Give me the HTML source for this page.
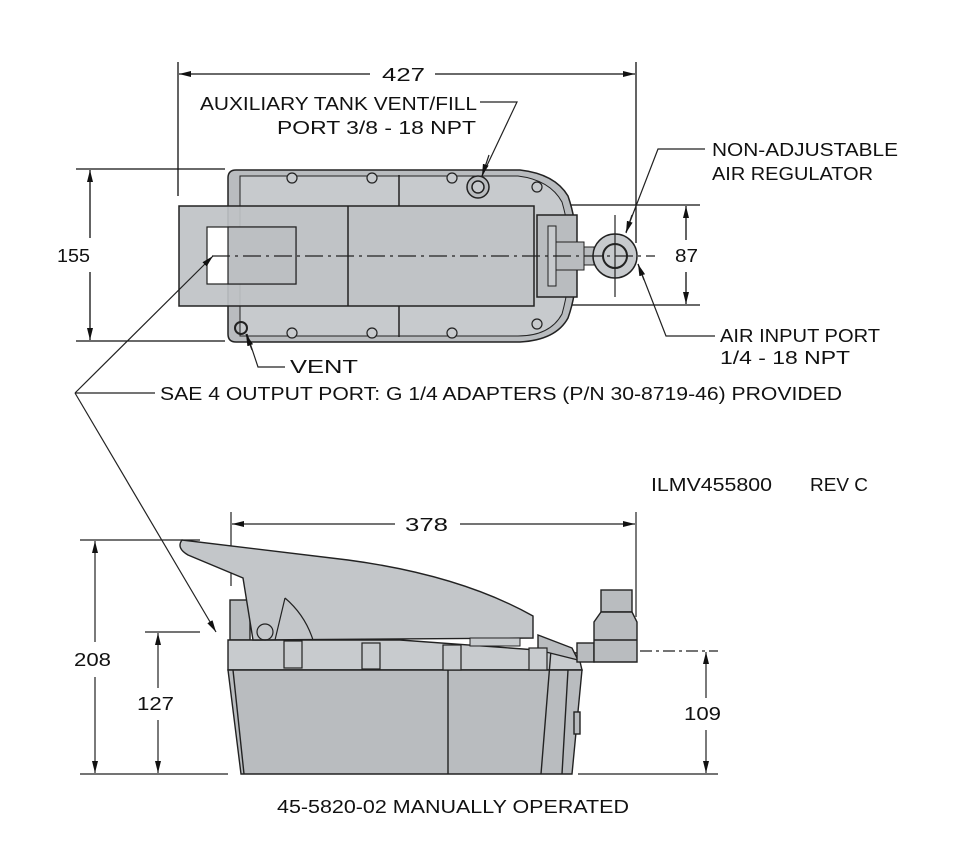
<!DOCTYPE html>
<html><head><style>
html,body{margin:0;padding:0;background:#fff}
svg text{font-family:"Liberation Sans",sans-serif;font-size:18px;fill:#111}
</style></head><body>
<svg width="980" height="844" viewBox="0 0 980 844" xmlns="http://www.w3.org/2000/svg">
<defs>
<marker id="a" viewBox="0 0 12 6" refX="12" refY="3" markerWidth="12" markerHeight="6" orient="auto-start-reverse" markerUnits="userSpaceOnUse"><path d="M0,0L12,3L0,6z" fill="#111"/></marker>
</defs>
<g stroke="#111" stroke-width="1.3" fill="none">
<line x1="178" y1="62" x2="178" y2="196"/>
<line x1="636" y1="62" x2="636" y2="243"/>
<line x1="179" y1="74" x2="370" y2="74" marker-start="url(#a)"/>
<line x1="435" y1="74" x2="635" y2="74" marker-end="url(#a)"/>
<line x1="76" y1="169" x2="225" y2="169"/>
<line x1="76" y1="341" x2="225" y2="341"/>
<line x1="90" y1="170" x2="90" y2="238" marker-start="url(#a)"/>
<line x1="90" y1="272" x2="90" y2="340" marker-end="url(#a)"/>
<line x1="545" y1="205" x2="700" y2="205"/>
<line x1="545" y1="305" x2="700" y2="305"/>
<line x1="686" y1="206" x2="686" y2="240" marker-start="url(#a)"/>
<line x1="686" y1="272" x2="686" y2="304" marker-end="url(#a)"/>
</g>
<g stroke="#222" stroke-width="1.5">
<path d="M236,170 L520,170 Q555,174 568,196 Q578,225 576,256 Q578,290 568,318 Q556,340 520,342 L236,342 Q228,342 228,334 L228,178 Q228,170 236,170Z" fill="#b9bcbf"/>
<path d="M240,176 L518,176 Q550,180 562,202 Q570,230 570,256 Q570,285 562,314 Q550,336 518,336 L240,336Z" fill="#c7cacd" stroke-width="1"/>
<rect x="179" y="206" width="355" height="100" fill="#bfc2c5" fill-opacity="0.92"/>
<rect x="207" y="227" width="89" height="57" fill="#fff" stroke-width="1.2"/>
<rect x="228" y="227" width="68" height="57" fill="#bcbfc2" stroke-width="1.2"/>
<line x1="348" y1="206" x2="348" y2="306"/>
<line x1="399" y1="175" x2="399" y2="206"/>
<line x1="399" y1="306" x2="399" y2="337"/>
<rect x="537" y="215" width="40" height="82" fill="#b9bcbf"/>
<rect x="548" y="226" width="8" height="60" fill="#c7cacd" stroke-width="1"/>
<rect x="556" y="242" width="28" height="28" fill="#b9bcbf" stroke-width="1"/>
<rect x="584" y="247" width="10" height="18" fill="#b9bcbf" stroke-width="1"/>
<circle cx="615" cy="256" r="22" fill="#c7cacd"/>
<circle cx="615" cy="256" r="12" fill="#c7cacd" stroke-width="2"/>
<circle cx="478" cy="187" r="11" fill="#b9bcbf"/>
<circle cx="478" cy="187" r="6" fill="#c7cacd"/>
<circle cx="241" cy="328" r="6" fill="none" stroke-width="2"/>
</g>
<g fill="#c7cacd" stroke="#222" stroke-width="1.2">
<circle cx="292" cy="178" r="5"/><circle cx="372" cy="178" r="5"/><circle cx="452" cy="178" r="5"/><circle cx="537" cy="187" r="5"/>
<circle cx="292" cy="333" r="5"/><circle cx="372" cy="333" r="5"/><circle cx="452" cy="333" r="5"/><circle cx="537" cy="324" r="5"/>
</g>
<g stroke="#222" stroke-width="1.2" fill="none">
<line x1="212" y1="256" x2="655" y2="256" stroke-dasharray="18,5,3,5"/>
<line x1="615" y1="215" x2="615" y2="297"/>
<polyline points="480,102 517,102 482,176" />
<line x1="489" y1="155" x2="482" y2="176" marker-end="url(#a)"/>
<polyline points="705,149 658,149 626,232" />
<line x1="632" y1="215" x2="626" y2="233" marker-end="url(#a)"/>
<polyline points="715,336 666,336 638,264"/>
<line x1="644" y1="280" x2="638" y2="264" marker-end="url(#a)"/>
<polyline points="285,367 258,367 247,334"/>
<line x1="252" y1="350" x2="246" y2="334" marker-end="url(#a)"/>
<line x1="155" y1="393" x2="75" y2="393"/>
<line x1="75" y1="393" x2="213" y2="256" marker-end="url(#a)"/>
<line x1="75" y1="393" x2="216" y2="632" marker-end="url(#a)"/>
<line x1="231" y1="512" x2="231" y2="586"/>
<line x1="636" y1="512" x2="636" y2="617"/>
<line x1="232" y1="524" x2="395" y2="524" marker-start="url(#a)"/>
<line x1="460" y1="524" x2="635" y2="524" marker-end="url(#a)"/>
<line x1="80" y1="540" x2="200" y2="540"/>
<line x1="80" y1="774" x2="228" y2="774"/>
<line x1="95" y1="541" x2="95" y2="642" marker-start="url(#a)"/>
<line x1="95" y1="677" x2="95" y2="773" marker-end="url(#a)"/>
<line x1="145" y1="632" x2="200" y2="632"/>
<line x1="158" y1="633" x2="158" y2="688" marker-start="url(#a)"/>
<line x1="158" y1="720" x2="158" y2="773" marker-end="url(#a)"/>
<line x1="578" y1="774" x2="718" y2="774"/>
<line x1="640" y1="651" x2="718" y2="651" stroke-dasharray="12,4,3,4"/>
<line x1="706" y1="652" x2="706" y2="698" marker-start="url(#a)"/>
<line x1="706" y1="730" x2="706" y2="773" marker-end="url(#a)"/>
</g>
<g stroke="#222" stroke-width="1.4" fill="#b9bcbf">
<rect x="230" y="600" width="20" height="40"/>
<path d="M228,640 L400,640 L578,653 L582,670 L228,670Z" fill="#c8cbce"/>
<path d="M228,670 L582,670 L572,774 L241,774Z"/>
<path d="M233,670 L244,774 M448,670 L448,774 M551,650 L541,774 M568,670 L562,774" fill="none"/>
<path d="M538,635 L572,648 L578,660 L538,650Z" fill="#b9bcbf"/>
<path d="M182,540 Q176,548 188,555 L243,578 L253,640 L533,638 L533,616 Q460,575 348,560 Z" fill="#c3c6c9"/>
<path d="M285,598 Q305,615 313,640 M285,598 L275,640" fill="none" stroke-width="1.2"/>
<rect x="470" y="638" width="50" height="8" fill="#c8cbce" stroke-width="1"/>
<rect x="577" y="643" width="17" height="19"/>
<rect x="601" y="590" width="31" height="22"/>
<path d="M601,612 L594,622 L594,662 L637,662 L637,622 L632,612Z"/>
<line x1="594" y1="640" x2="637" y2="640" fill="none"/>
<rect x="574" y="712" width="6" height="22"/>
</g>
<g fill="#c8cbce" stroke="#222" stroke-width="1.2">
<rect x="284" y="641" width="18" height="27"/><rect x="362" y="643" width="18" height="26"/><rect x="443" y="645" width="18" height="25"/><rect x="529" y="648" width="18" height="22"/>
<circle cx="265" cy="632" r="8" fill="none"/>
</g>
<text x="382" y="81" textLength="43" lengthAdjust="spacingAndGlyphs">427</text>
<text x="200" y="110" textLength="277" lengthAdjust="spacingAndGlyphs">AUXILIARY TANK VENT/FILL</text>
<text x="277" y="134" textLength="199" lengthAdjust="spacingAndGlyphs">PORT 3/8 - 18 NPT</text>
<text x="712" y="156" textLength="186" lengthAdjust="spacingAndGlyphs">NON-ADJUSTABLE</text>
<text x="712" y="180" textLength="161" lengthAdjust="spacingAndGlyphs">AIR REGULATOR</text>
<text x="57" y="262" textLength="33" lengthAdjust="spacingAndGlyphs">155</text>
<text x="675" y="262" textLength="23" lengthAdjust="spacingAndGlyphs">87</text>
<text x="720" y="342" textLength="160" lengthAdjust="spacingAndGlyphs">AIR INPUT PORT</text>
<text x="720" y="364" textLength="130" lengthAdjust="spacingAndGlyphs">1/4 - 18 NPT</text>
<text x="290" y="373" textLength="68" lengthAdjust="spacingAndGlyphs">VENT</text>
<text x="160" y="400" textLength="682" lengthAdjust="spacingAndGlyphs">SAE 4 OUTPUT PORT: G 1/4 ADAPTERS (P/N 30-8719-46) PROVIDED</text>
<text x="651" y="491" textLength="121" lengthAdjust="spacingAndGlyphs">ILMV455800</text>
<text x="810" y="491" textLength="58" lengthAdjust="spacingAndGlyphs">REV C</text>
<text x="405" y="531" textLength="43" lengthAdjust="spacingAndGlyphs">378</text>
<text x="74" y="666" textLength="37" lengthAdjust="spacingAndGlyphs">208</text>
<text x="137" y="710" textLength="37" lengthAdjust="spacingAndGlyphs">127</text>
<text x="684" y="720" textLength="37" lengthAdjust="spacingAndGlyphs">109</text>
<text x="277" y="813" textLength="352" lengthAdjust="spacingAndGlyphs">45-5820-02 MANUALLY OPERATED</text>
</svg>
</body></html>
